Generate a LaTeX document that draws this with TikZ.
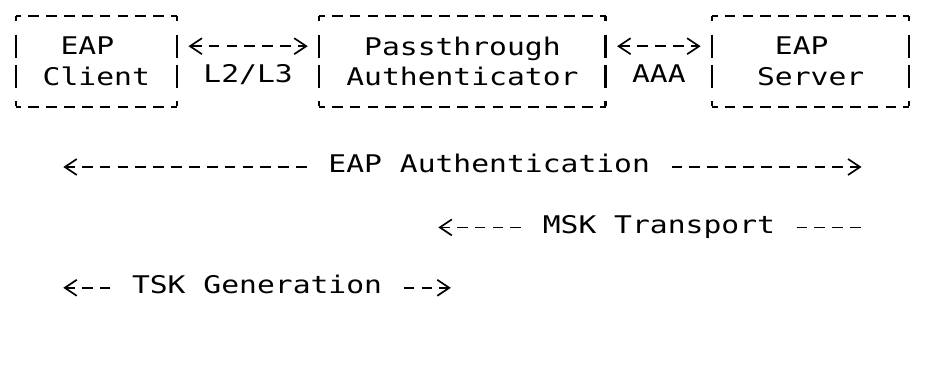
\documentclass[tikz,border=0pt]{standalone}
\usepackage{fontspec}
\setmonofont{DejaVu Sans Mono}
\usepackage{graphicx}
\usetikzlibrary{arrows.meta}
\newcommand{\sq}[1]{\scalebox{1}[0.82]{#1}}
\tikzset{chev/.tip={Straight Barb[length=12pt,width=16pt]}}

\begin{document}
\begin{tikzpicture}[x=17.86pt, y=-30.2pt,
  every node/.style={font=\ttfamily\fontsize{29.67pt}{30.2pt}\selectfont, inner sep=0pt},
  box/.style={minimum height=90.6pt, align=center},
  lbl/.style={inner xsep=21.43pt, text height=11.6pt, text depth=0pt},
  dashline/.style={line width=1.7pt, dash pattern=on 10.72pt off 7.14pt},
  hrule/.style={dashline, dash phase=5.36pt},
  vrule/.style={line width=2.2pt, dash pattern=on 5.2pt off 13.5pt on 23pt off 7.2pt on 23pt off 13.5pt on 5.2pt off 20pt},
  link/.style={dashline, chev-chev, shorten <=11.6pt, shorten >=11.6pt}]
\useasboundingbox (-0.392,-0.53) rectangle (51.4,11.755);

% the three boxes
\node[box, minimum width=160.74pt] (client) at (5,1.5) {\sq{EAP\phantom{x}}\\\sq{Client}};
\node[box, minimum width=285.76pt] (pass) at (25.5,1.5) {\sq{Passthrough}\\\sq{Authenticator}};
\node[box, minimum width=196.46pt] (server) at (45,1.5) {\sq{EAP\phantom{x}}\\\sq{Server}};
\foreach \b in {client,pass,server}{
  \draw[hrule] (\b.north west) -- (\b.north east) (\b.south west) -- (\b.south east);
  \draw[vrule] (\b.north west) -- (\b.south west) (\b.north east) -- (\b.south east);
}

\draw[link] ([yshift=15.1pt]client.east) -- node[lbl, yshift=-30.2pt] (l2l3) {\sq{L2/L3}} ([yshift=15.1pt]pass.west);
\draw[link] ([yshift=15.1pt]pass.east) -- node[lbl, yshift=-30.2pt] (aaa) {\sq{AAA}} ([yshift=15.1pt]server.west);

% flows below
\node[lbl] (auth) at (27,5) {\sq{EAP Authentication}};
\node[lbl] (msk) at (36.5,7) {\sq{MSK Transport}};
\node[lbl] (tsk) at (14,9) {\sq{TSK Generation}};
\coordinate (authL) at (3.15,5);
\coordinate (authR) at (47.85,5);
\coordinate (mskL) at (24.15,7);
\coordinate (mskR) at (47.8,7);
\coordinate (tskL) at (3.15,9);
\coordinate (tskR) at (24.85,9);

\draw[dashline, -chev] (auth.west) -- (authL);
\draw[dashline, -chev] (auth.east) -- (authR);
\draw[dashline, -chev] (msk.west) -- (mskL);
\draw[dashline] (msk.east) -- (mskR);
\draw[dashline, -chev] (tsk.west) -- (tskL);
\draw[dashline, -chev] (tsk.east) -- (tskR);
\end{tikzpicture}
\end{document}
